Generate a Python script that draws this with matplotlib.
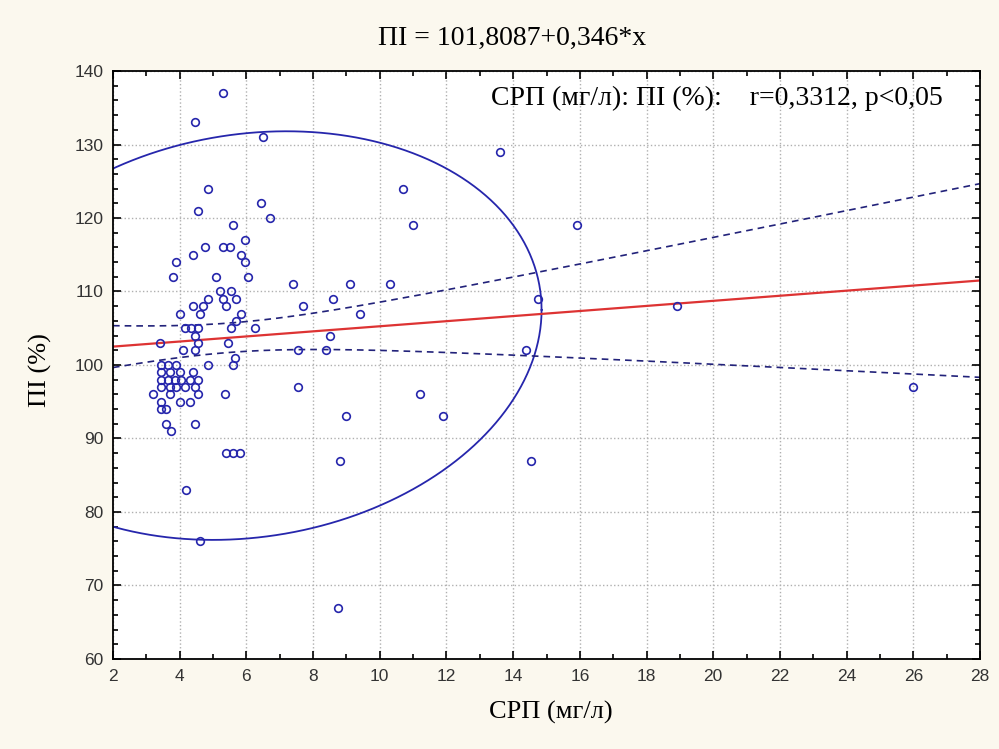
import numpy as np
import matplotlib.pyplot as plt
from matplotlib.ticker import MultipleLocator

# точки: СРП (мг/л) та ПІ (%)
srp = [5.3, 4.45, 6.5, 13.6, 4.85, 10.7, 4.55, 6.45, 6.7, 5.6, 11.0, 15.9,
       5.95, 4.75, 5.3, 5.5, 4.4, 5.85, 5.95, 3.9, 3.8, 5.1, 6.05, 7.4, 9.1,
       10.3, 5.2, 5.55, 4.85, 5.3, 5.7, 8.6, 14.75, 4.4, 4.7, 5.4, 7.7, 18.9,
       4.0, 4.6, 5.85, 9.4, 5.7, 4.15, 4.35, 4.55, 5.55, 6.25, 4.45, 8.5,
       4.55, 3.4, 5.45, 4.1, 4.45, 7.55, 8.4, 14.4, 5.65, 4.85, 5.6,
       3.45, 3.65, 3.9, 3.45, 3.7, 4.0, 4.4,
       3.45, 3.65, 3.85, 4.05, 4.3, 4.55,
       3.45, 3.7, 3.9, 4.15, 4.45, 7.55, 26.0,
       3.2, 3.7, 4.55, 5.35, 11.2, 3.45, 4.0, 4.3, 3.45, 3.6,
       3.6, 3.75, 4.45, 9.0, 11.9, 5.4, 5.6, 5.8, 8.8, 14.55, 4.2, 4.6, 8.75]
pi = [137, 133, 131, 129, 124, 124, 121, 122, 120, 119, 119, 119,
      117, 116, 116, 116, 115, 115, 114, 114, 112, 112, 112, 111, 111,
      111, 110, 110, 109, 109, 109, 109, 109, 108, 108, 108, 108, 108,
      107, 107, 107, 107, 106, 105, 105, 105, 105, 105, 104, 104,
      103, 103, 103, 102, 102, 102, 102, 102, 101, 100, 100,
      100, 100, 100, 99, 99, 99, 99,
      98, 98, 98, 98, 98, 98,
      97, 97, 97, 97, 97, 97, 97,
      96, 96, 96, 96, 96, 95, 95, 95, 94, 94,
      92, 91, 92, 93, 93, 88, 88, 88, 87, 87, 83, 76, 67]

# регресія ПІ = 101,8087 + 0,346*x
intercept = 101.8087
slope = 0.346
# довірчі межі: напівширина = sqrt(a + b*(x - x0)^2)
band_a, band_b, band_x0 = 4.0, 0.335, 5.5
# еліпс: центр та коваріаційна матриця
ell_center = (6.1, 104.0)
ell_cov = [[76.6, 30.6], [30.6, 772.8]]

serif = ['Liberation Serif', 'DejaVu Serif']
sans = ['Liberation Sans', 'DejaVu Sans']
blue = '#2626ac'

fig = plt.figure(figsize=(9.99, 7.49), dpi=100, facecolor='#fbf8ee')
ax = fig.add_axes([0.1131, 0.1202, 0.8679, 0.785])
ax.set_facecolor('white')

ax.set_xlim(2, 28)
ax.set_ylim(60, 140)
ax.xaxis.set_major_locator(MultipleLocator(2))
ax.xaxis.set_minor_locator(MultipleLocator(1))
ax.yaxis.set_major_locator(MultipleLocator(10))
ax.yaxis.set_minor_locator(MultipleLocator(2))
ax.tick_params(which='both', direction='in', top=True, right=True,
               labelsize=12.5, labelcolor='#333333', width=1.2)
ax.tick_params(which='major', length=6, pad=7)
ax.tick_params(which='minor', length=3.5)
for lab in ax.get_xticklabels() + ax.get_yticklabels():
    lab.set_family(sans)
for s in ax.spines.values():
    s.set_linewidth(1.3)
ax.grid(True, which='major', linestyle=':', color='#b0b0b0', linewidth=1)
ax.set_axisbelow(True)

# еліпс
t = np.linspace(0, 2 * np.pi, 400)
L = np.linalg.cholesky(np.array(ell_cov))
pts = L @ np.vstack([np.cos(t), np.sin(t)])
ax.plot(ell_center[0] + pts[0], ell_center[1] + pts[1], color=blue, lw=1.3)

# лінія регресії та довірчі межі
xs = np.linspace(2, 28, 300)
yh = intercept + slope * xs
hw = np.sqrt(band_a + band_b * (xs - band_x0) ** 2)
ax.plot(xs, yh + hw, color='#22227a', lw=1.2, dashes=(4, 3))
ax.plot(xs, yh - hw, color='#22227a', lw=1.2, dashes=(4, 3))
ax.plot(xs, yh, color='#dd3333', lw=1.6)

ax.plot(srp, pi, 'o', mfc='none', mec=blue, mew=1.2, ms=5.5, clip_on=False)

fig.text(0.513, 0.949, 'ПІ = 101,8087+0,346*x', ha='center', va='center',
         fontsize=20, family=serif)
fig.text(943 / 999, 1 - 98 / 749, 'СРП (мг/л): ПІ (%):    r=0,3312, p<0,05',
         ha='right', va='center', fontsize=20, family=serif)
fig.text(0.551, 0.049, 'СРП (мг/л)', ha='center', va='center',
         fontsize=19, family=serif)
fig.text(0.040, 0.506, 'ПІ (%)', ha='center', va='center', rotation=90,
         fontsize=19, family=serif)

fig.savefig('out.png', dpi=100, facecolor=fig.get_facecolor())
